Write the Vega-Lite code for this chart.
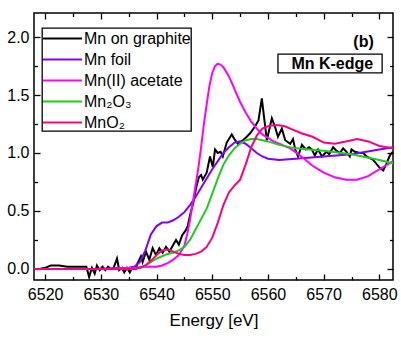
{
  "$schema": "https://vega.github.io/schema/vega-lite/v6.json",
  "autosize": "none",
  "width": 359,
  "height": 267,
  "padding": {"left": 34, "top": 13, "right": 8, "bottom": 62},
  "background": "white",
  "config": {
    "view": {"stroke": "black", "strokeWidth": 1.5},
    "font": "Liberation Sans",
    "axis": {"grid": false, "domain": false, "labelColor": "black", "tickColor": "black", "tickWidth": 1.3, "labelFont": "Liberation Sans", "titleFont": "Liberation Sans"},
    "legend": {"strokeWidth": 1.3}
  },
  "data": {"values": [
    {"s":"Mn on graphite","e":6518.0,"v":0.00},{"s":"Mn on graphite","e":6519.0,"v":0.00},{"s":"Mn on graphite","e":6520.0,"v":0.01},{"s":"Mn on graphite","e":6521.0,"v":0.03},{"s":"Mn on graphite","e":6522.5,"v":0.03},{"s":"Mn on graphite","e":6524.0,"v":0.02},{"s":"Mn on graphite","e":6526.0,"v":0.02},{"s":"Mn on graphite","e":6527.4,"v":0.02},{"s":"Mn on graphite","e":6527.9,"v":-0.07},{"s":"Mn on graphite","e":6528.4,"v":0.01},{"s":"Mn on graphite","e":6528.9,"v":-0.04},{"s":"Mn on graphite","e":6529.3,"v":0.03},{"s":"Mn on graphite","e":6529.8,"v":-0.01},{"s":"Mn on graphite","e":6530.3,"v":0.02},{"s":"Mn on graphite","e":6530.8,"v":-0.01},{"s":"Mn on graphite","e":6531.3,"v":0.02},{"s":"Mn on graphite","e":6531.8,"v":0.00},{"s":"Mn on graphite","e":6532.3,"v":0.01},{"s":"Mn on graphite","e":6532.9,"v":0.09},{"s":"Mn on graphite","e":6533.3,"v":-0.01},{"s":"Mn on graphite","e":6533.8,"v":0.01},{"s":"Mn on graphite","e":6534.2,"v":-0.03},{"s":"Mn on graphite","e":6534.7,"v":0.01},{"s":"Mn on graphite","e":6535.2,"v":-0.03},{"s":"Mn on graphite","e":6535.6,"v":0.01},{"s":"Mn on graphite","e":6536.2,"v":0.00},{"s":"Mn on graphite","e":6536.6,"v":0.05},{"s":"Mn on graphite","e":6537.2,"v":0.11},{"s":"Mn on graphite","e":6537.5,"v":0.06},{"s":"Mn on graphite","e":6538.1,"v":0.15},{"s":"Mn on graphite","e":6538.7,"v":0.08},{"s":"Mn on graphite","e":6539.3,"v":0.18},{"s":"Mn on graphite","e":6539.9,"v":0.12},{"s":"Mn on graphite","e":6540.5,"v":0.18},{"s":"Mn on graphite","e":6541.1,"v":0.14},{"s":"Mn on graphite","e":6541.7,"v":0.19},{"s":"Mn on graphite","e":6542.3,"v":0.15},{"s":"Mn on graphite","e":6542.9,"v":0.20},{"s":"Mn on graphite","e":6543.5,"v":0.25},{"s":"Mn on graphite","e":6544.0,"v":0.21},{"s":"Mn on graphite","e":6544.6,"v":0.29},{"s":"Mn on graphite","e":6545.2,"v":0.33},{"s":"Mn on graphite","e":6545.6,"v":0.37},{"s":"Mn on graphite","e":6546.1,"v":0.48},{"s":"Mn on graphite","e":6546.6,"v":0.57},{"s":"Mn on graphite","e":6547.1,"v":0.70},{"s":"Mn on graphite","e":6547.6,"v":0.79},{"s":"Mn on graphite","e":6548.0,"v":0.81},{"s":"Mn on graphite","e":6548.3,"v":0.77},{"s":"Mn on graphite","e":6549.0,"v":0.83},{"s":"Mn on graphite","e":6549.6,"v":0.97},{"s":"Mn on graphite","e":6550.1,"v":0.88},{"s":"Mn on graphite","e":6550.5,"v":1.03},{"s":"Mn on graphite","e":6551.0,"v":1.00},{"s":"Mn on graphite","e":6551.5,"v":1.01},{"s":"Mn on graphite","e":6551.9,"v":0.97},{"s":"Mn on graphite","e":6552.6,"v":1.09},{"s":"Mn on graphite","e":6553.5,"v":1.16},{"s":"Mn on graphite","e":6554.1,"v":1.11},{"s":"Mn on graphite","e":6554.6,"v":1.08},{"s":"Mn on graphite","e":6555.5,"v":1.11},{"s":"Mn on graphite","e":6556.2,"v":1.14},{"s":"Mn on graphite","e":6556.8,"v":1.17},{"s":"Mn on graphite","e":6557.7,"v":1.23},{"s":"Mn on graphite","e":6558.3,"v":1.28},{"s":"Mn on graphite","e":6558.9,"v":1.47},{"s":"Mn on graphite","e":6559.3,"v":1.31},{"s":"Mn on graphite","e":6559.8,"v":1.11},{"s":"Mn on graphite","e":6560.7,"v":1.30},{"s":"Mn on graphite","e":6561.3,"v":1.22},{"s":"Mn on graphite","e":6561.8,"v":1.14},{"s":"Mn on graphite","e":6562.5,"v":1.21},{"s":"Mn on graphite","e":6563.1,"v":1.11},{"s":"Mn on graphite","e":6564.0,"v":1.08},{"s":"Mn on graphite","e":6564.5,"v":1.12},{"s":"Mn on graphite","e":6564.9,"v":1.03},{"s":"Mn on graphite","e":6565.4,"v":0.97},{"s":"Mn on graphite","e":6566.1,"v":1.07},{"s":"Mn on graphite","e":6566.8,"v":1.03},{"s":"Mn on graphite","e":6567.4,"v":1.05},{"s":"Mn on graphite","e":6567.9,"v":1.03},{"s":"Mn on graphite","e":6568.4,"v":0.98},{"s":"Mn on graphite","e":6569.0,"v":1.03},{"s":"Mn on graphite","e":6569.7,"v":0.97},{"s":"Mn on graphite","e":6570.5,"v":1.01},{"s":"Mn on graphite","e":6571.0,"v":0.99},{"s":"Mn on graphite","e":6571.7,"v":1.05},{"s":"Mn on graphite","e":6572.3,"v":1.02},{"s":"Mn on graphite","e":6572.9,"v":1.00},{"s":"Mn on graphite","e":6573.5,"v":1.04},{"s":"Mn on graphite","e":6574.1,"v":1.01},{"s":"Mn on graphite","e":6574.7,"v":0.97},{"s":"Mn on graphite","e":6575.0,"v":1.03},{"s":"Mn on graphite","e":6575.6,"v":1.01},{"s":"Mn on graphite","e":6576.5,"v":1.00},{"s":"Mn on graphite","e":6577.1,"v":1.00},{"s":"Mn on graphite","e":6577.7,"v":0.97},{"s":"Mn on graphite","e":6578.9,"v":0.94},{"s":"Mn on graphite","e":6580.1,"v":0.87},{"s":"Mn on graphite","e":6580.7,"v":0.85},{"s":"Mn on graphite","e":6581.3,"v":0.91},{"s":"Mn on graphite","e":6581.9,"v":0.98},{"s":"Mn on graphite","e":6582.4,"v":1.01},
    {"s":"Mn foil","e":6518,"v":0.0},{"s":"Mn foil","e":6530,"v":0.0},{"s":"Mn foil","e":6535,"v":0.01},{"s":"Mn foil","e":6536,"v":0.02},{"s":"Mn foil","e":6537,"v":0.06},{"s":"Mn foil","e":6538,"v":0.16},{"s":"Mn foil","e":6539,"v":0.30},{"s":"Mn foil","e":6540,"v":0.37},{"s":"Mn foil","e":6541,"v":0.40},{"s":"Mn foil","e":6542,"v":0.40},{"s":"Mn foil","e":6543,"v":0.42},{"s":"Mn foil","e":6544,"v":0.45},{"s":"Mn foil","e":6545,"v":0.49},{"s":"Mn foil","e":6546,"v":0.55},{"s":"Mn foil","e":6547,"v":0.62},{"s":"Mn foil","e":6548,"v":0.70},{"s":"Mn foil","e":6549,"v":0.78},{"s":"Mn foil","e":6550,"v":0.86},{"s":"Mn foil","e":6551,"v":0.93},{"s":"Mn foil","e":6552,"v":1.00},{"s":"Mn foil","e":6553,"v":1.05},{"s":"Mn foil","e":6554,"v":1.09},{"s":"Mn foil","e":6555,"v":1.10},{"s":"Mn foil","e":6556,"v":1.08},{"s":"Mn foil","e":6557,"v":1.04},{"s":"Mn foil","e":6558,"v":1.00},{"s":"Mn foil","e":6559,"v":0.97},{"s":"Mn foil","e":6560,"v":0.95},{"s":"Mn foil","e":6562,"v":0.94},{"s":"Mn foil","e":6565,"v":0.95},{"s":"Mn foil","e":6570,"v":0.97},{"s":"Mn foil","e":6575,"v":0.99},{"s":"Mn foil","e":6580,"v":1.03},{"s":"Mn foil","e":6582.5,"v":1.05},
    {"s":"Mn(II) acetate","e":6518,"v":0.0},{"s":"Mn(II) acetate","e":6530,"v":0.0},{"s":"Mn(II) acetate","e":6536,"v":0.01},{"s":"Mn(II) acetate","e":6538,"v":0.02},{"s":"Mn(II) acetate","e":6540,"v":0.02},{"s":"Mn(II) acetate","e":6541,"v":0.03},{"s":"Mn(II) acetate","e":6542,"v":0.05},{"s":"Mn(II) acetate","e":6543,"v":0.08},{"s":"Mn(II) acetate","e":6544,"v":0.12},{"s":"Mn(II) acetate","e":6545,"v":0.20},{"s":"Mn(II) acetate","e":6545.5,"v":0.30},{"s":"Mn(II) acetate","e":6546,"v":0.42},{"s":"Mn(II) acetate","e":6546.5,"v":0.57},{"s":"Mn(II) acetate","e":6547,"v":0.72},{"s":"Mn(II) acetate","e":6547.5,"v":0.87},{"s":"Mn(II) acetate","e":6548,"v":1.05},{"s":"Mn(II) acetate","e":6548.5,"v":1.25},{"s":"Mn(II) acetate","e":6549,"v":1.42},{"s":"Mn(II) acetate","e":6549.5,"v":1.58},{"s":"Mn(II) acetate","e":6550,"v":1.69},{"s":"Mn(II) acetate","e":6550.5,"v":1.75},{"s":"Mn(II) acetate","e":6551,"v":1.77},{"s":"Mn(II) acetate","e":6551.5,"v":1.76},{"s":"Mn(II) acetate","e":6552,"v":1.74},{"s":"Mn(II) acetate","e":6553,"v":1.66},{"s":"Mn(II) acetate","e":6554,"v":1.55},{"s":"Mn(II) acetate","e":6555,"v":1.44},{"s":"Mn(II) acetate","e":6556,"v":1.35},{"s":"Mn(II) acetate","e":6557,"v":1.27},{"s":"Mn(II) acetate","e":6558,"v":1.21},{"s":"Mn(II) acetate","e":6559,"v":1.16},{"s":"Mn(II) acetate","e":6560,"v":1.13},{"s":"Mn(II) acetate","e":6561,"v":1.10},{"s":"Mn(II) acetate","e":6562,"v":1.08},{"s":"Mn(II) acetate","e":6564,"v":1.04},{"s":"Mn(II) acetate","e":6566,"v":0.97},{"s":"Mn(II) acetate","e":6568,"v":0.89},{"s":"Mn(II) acetate","e":6570,"v":0.83},{"s":"Mn(II) acetate","e":6572,"v":0.79},{"s":"Mn(II) acetate","e":6574,"v":0.77},{"s":"Mn(II) acetate","e":6576,"v":0.77},{"s":"Mn(II) acetate","e":6578,"v":0.80},{"s":"Mn(II) acetate","e":6580,"v":0.86},{"s":"Mn(II) acetate","e":6582.5,"v":0.93},
    {"s":"Mn₂O₃","e":6518,"v":0.0},{"s":"Mn₂O₃","e":6536,"v":0.0},{"s":"Mn₂O₃","e":6537,"v":0.01},{"s":"Mn₂O₃","e":6538,"v":0.03},{"s":"Mn₂O₃","e":6539,"v":0.06},{"s":"Mn₂O₃","e":6540,"v":0.09},{"s":"Mn₂O₃","e":6541,"v":0.11},{"s":"Mn₂O₃","e":6542,"v":0.13},{"s":"Mn₂O₃","e":6543,"v":0.14},{"s":"Mn₂O₃","e":6544,"v":0.16},{"s":"Mn₂O₃","e":6545,"v":0.19},{"s":"Mn₂O₃","e":6546,"v":0.25},{"s":"Mn₂O₃","e":6547,"v":0.34},{"s":"Mn₂O₃","e":6548,"v":0.43},{"s":"Mn₂O₃","e":6549,"v":0.52},{"s":"Mn₂O₃","e":6550,"v":0.65},{"s":"Mn₂O₃","e":6551,"v":0.78},{"s":"Mn₂O₃","e":6552,"v":0.90},{"s":"Mn₂O₃","e":6553,"v":0.98},{"s":"Mn₂O₃","e":6554,"v":1.04},{"s":"Mn₂O₃","e":6555,"v":1.08},{"s":"Mn₂O₃","e":6556,"v":1.11},{"s":"Mn₂O₃","e":6557,"v":1.12},{"s":"Mn₂O₃","e":6558,"v":1.12},{"s":"Mn₂O₃","e":6559,"v":1.11},{"s":"Mn₂O₃","e":6560,"v":1.10},{"s":"Mn₂O₃","e":6562,"v":1.07},{"s":"Mn₂O₃","e":6565,"v":1.04},{"s":"Mn₂O₃","e":6570,"v":1.02},{"s":"Mn₂O₃","e":6575,"v":0.99},{"s":"Mn₂O₃","e":6580,"v":0.94},{"s":"Mn₂O₃","e":6582.5,"v":0.91},
    {"s":"MnO₂","e":6518,"v":0.0},{"s":"MnO₂","e":6536,"v":0.0},{"s":"MnO₂","e":6537,"v":0.01},{"s":"MnO₂","e":6538,"v":0.03},{"s":"MnO₂","e":6539,"v":0.07},{"s":"MnO₂","e":6540,"v":0.12},{"s":"MnO₂","e":6541,"v":0.16},{"s":"MnO₂","e":6542,"v":0.17},{"s":"MnO₂","e":6543,"v":0.15},{"s":"MnO₂","e":6544,"v":0.13},{"s":"MnO₂","e":6545,"v":0.12},{"s":"MnO₂","e":6546,"v":0.12},{"s":"MnO₂","e":6547,"v":0.13},{"s":"MnO₂","e":6548,"v":0.15},{"s":"MnO₂","e":6549,"v":0.19},{"s":"MnO₂","e":6550,"v":0.27},{"s":"MnO₂","e":6551,"v":0.40},{"s":"MnO₂","e":6552,"v":0.55},{"s":"MnO₂","e":6553,"v":0.66},{"s":"MnO₂","e":6554,"v":0.72},{"s":"MnO₂","e":6555,"v":0.77},{"s":"MnO₂","e":6556,"v":0.90},{"s":"MnO₂","e":6557,"v":1.05},{"s":"MnO₂","e":6558,"v":1.15},{"s":"MnO₂","e":6559,"v":1.21},{"s":"MnO₂","e":6560,"v":1.23},{"s":"MnO₂","e":6561,"v":1.24},{"s":"MnO₂","e":6562,"v":1.24},{"s":"MnO₂","e":6563,"v":1.23},{"s":"MnO₂","e":6564,"v":1.21},{"s":"MnO₂","e":6566,"v":1.17},{"s":"MnO₂","e":6568,"v":1.14},{"s":"MnO₂","e":6570,"v":1.09},{"s":"MnO₂","e":6572,"v":1.08},{"s":"MnO₂","e":6574,"v":1.10},{"s":"MnO₂","e":6576,"v":1.12},{"s":"MnO₂","e":6578,"v":1.10},{"s":"MnO₂","e":6580,"v":1.06},{"s":"MnO₂","e":6582.5,"v":1.04}
  ]},
  "resolve": {"axis": {"x": "independent", "y": "independent"}},
  "layer": [
    {
      "data": {"values": [{"x1": 6561.8, "x2": 6580.5, "y1": 1.853, "y2": 1.69}]},
      "mark": {"type": "rect", "fill": "white", "stroke": "black", "strokeWidth": 1.3},
      "encoding": {
        "x": {"field": "x1", "type": "quantitative", "scale": {"domain": [6518, 6582.45], "nice": false, "zero": false}, "axis": null},
        "x2": {"field": "x2"},
        "y": {"field": "y1", "type": "quantitative", "scale": {"domain": [-0.095, 2.207], "nice": false, "zero": false}, "axis": null},
        "y2": {"field": "y2"}
      }
    },
    {
      "mark": {"type": "line", "strokeWidth": 2, "clip": true},
      "encoding": {
        "x": {"field": "e", "type": "quantitative", "scale": {"domain": [6518, 6582.45], "nice": false, "zero": false},
          "axis": {"orient": "bottom", "values": [6520, 6530, 6540, 6550, 6560, 6570, 6580], "format": "d", "ticks": false, "labelFontSize": 16, "labelPadding": 6, "title": "Energy [eV]", "titleFontSize": 17, "titleFontWeight": "normal", "titleColor": "black", "titlePadding": 10}},
        "y": {"field": "v", "type": "quantitative", "scale": {"domain": [-0.095, 2.207], "nice": false, "zero": false},
          "axis": {"orient": "left", "values": [0, 0.5, 1, 1.5, 2], "format": ".1f", "ticks": false, "labelFontSize": 16, "labelPadding": 5, "title": null}},
        "color": {"field": "s", "type": "nominal",
          "scale": {"domain": ["Mn on graphite", "Mn foil", "Mn(II) acetate", "Mn₂O₃", "MnO₂"], "range": ["#000000", "#8000FF", "#FF00FF", "#1ECC1E", "#FF0080"]},
          "legend": {"orient": "none", "legendX": 8, "legendY": 15, "title": null, "symbolType": "M-1,0H3.1", "symbolSize": 361, "symbolStrokeWidth": 2, "labelFontSize": 16, "labelColor": "black", "labelOffset": 21, "rowPadding": 2, "padding": 0, "strokeColor": "black", "fillColor": "white", "labelLimit": 300}},
        "order": {"field": "e", "type": "quantitative"}
      }
    },
    {
      "mark": {"type": "point", "opacity": 0},
      "encoding": {
        "x": {"field": "e", "type": "quantitative", "scale": {"domain": [6518, 6582.45], "nice": false, "zero": false},
          "axis": {"orient": "bottom", "values": [6520, 6530, 6540, 6550, 6560, 6570, 6580], "labels": false, "tickSize": -6, "title": null}},
        "y": {"field": "v", "type": "quantitative", "scale": {"domain": [-0.095, 2.207], "nice": false, "zero": false},
          "axis": {"orient": "left", "values": [0, 0.5, 1, 1.5, 2], "labels": false, "tickSize": -6, "title": null}}
      }
    },
    {
      "mark": {"type": "point", "opacity": 0},
      "encoding": {
        "x": {"field": "e", "type": "quantitative", "scale": {"domain": [6518, 6582.45], "nice": false, "zero": false},
          "axis": {"orient": "top", "values": [6520, 6530, 6540, 6550, 6560, 6570, 6580], "labels": false, "tickSize": -6, "title": null}},
        "y": {"field": "v", "type": "quantitative", "scale": {"domain": [-0.095, 2.207], "nice": false, "zero": false},
          "axis": {"orient": "right", "values": [0, 0.5, 1, 1.5, 2], "labels": false, "tickSize": -6, "title": null}}
      }
    },
    {
      "mark": {"type": "point", "opacity": 0},
      "encoding": {
        "x": {"field": "e", "type": "quantitative", "scale": {"domain": [6518, 6582.45], "nice": false, "zero": false},
          "axis": {"orient": "bottom", "values": [6525, 6535, 6545, 6555, 6565, 6575], "labels": false, "tickSize": -3.5, "title": null}},
        "y": {"field": "v", "type": "quantitative", "scale": {"domain": [-0.095, 2.207], "nice": false, "zero": false},
          "axis": {"orient": "left", "values": [0.25, 0.75, 1.25, 1.75], "labels": false, "tickSize": -3.5, "title": null}}
      }
    },
    {
      "mark": {"type": "point", "opacity": 0},
      "encoding": {
        "x": {"field": "e", "type": "quantitative", "scale": {"domain": [6518, 6582.45], "nice": false, "zero": false},
          "axis": {"orient": "top", "values": [6525, 6535, 6545, 6555, 6565, 6575], "labels": false, "tickSize": -3.5, "title": null}},
        "y": {"field": "v", "type": "quantitative", "scale": {"domain": [-0.095, 2.207], "nice": false, "zero": false},
          "axis": {"orient": "right", "values": [0.25, 0.75, 1.25, 1.75], "labels": false, "tickSize": -3.5, "title": null}}
      }
    },
    {
      "data": {"values": [{"t": "(b)", "x": 6579.0, "y": 1.96}, {"t": "Mn K-edge", "x": 6578.9, "y": 1.765}]},
      "mark": {"type": "text", "align": "right", "baseline": "middle", "fontSize": 16, "fontWeight": "bold", "font": "Liberation Sans", "color": "black"},
      "encoding": {
        "x": {"field": "x", "type": "quantitative", "scale": {"domain": [6518, 6582.45], "nice": false, "zero": false}, "axis": null},
        "y": {"field": "y", "type": "quantitative", "scale": {"domain": [-0.095, 2.207], "nice": false, "zero": false}, "axis": null},
        "text": {"field": "t"}
      }
    }
  ]
}
